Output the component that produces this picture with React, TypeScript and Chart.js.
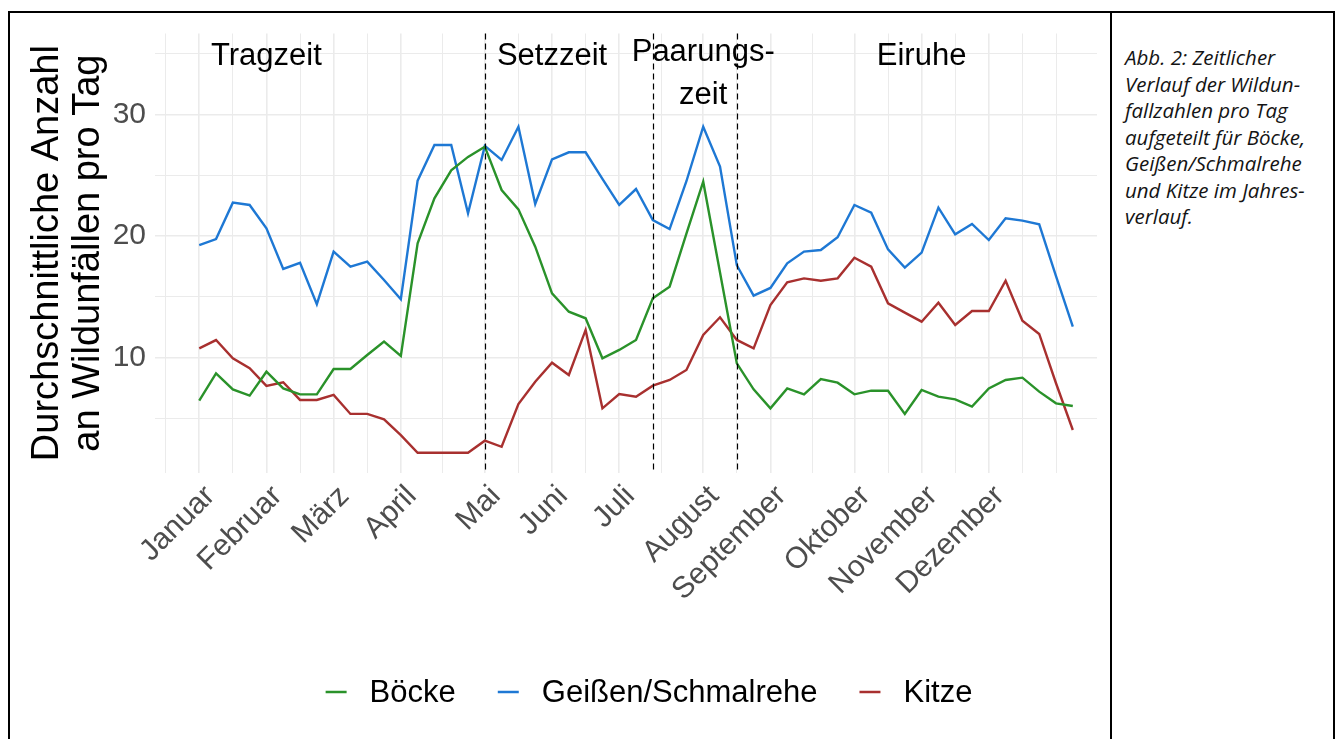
import React, { useEffect, useRef } from 'react';
import { Chart, registerables } from 'chart.js';

Chart.register(...registerables);

// ---------- data ----------
const weeks = [
  1, 2, 3, 4, 5, 6, 7, 8, 9, 10, 11, 12, 13, 14, 15, 16, 17, 18, 19, 20, 21, 22, 23, 24, 25, 26,
  27, 28, 29, 30, 31, 32, 33, 34, 35, 36, 37, 38, 39, 40, 41, 42, 43, 44, 45, 46, 47, 48, 49, 50,
  51, 52, 53,
];

const boecke = [
  6.47, 8.72, 7.4, 6.88, 8.85, 7.48, 6.99, 6.99, 9.07, 9.07, 10.22, 11.32, 10.14, 19.4, 23.1, 25.4,
  26.5, 27.34, 23.78, 22.19, 19.12, 15.29, 13.78, 13.24, 9.95, 10.64, 11.46, 14.89, 15.84, 20.2,
  24.46, 17.0, 9.54, 7.4, 5.84, 7.48, 6.99, 8.25, 7.95, 6.99, 7.29, 7.29, 5.38, 7.35, 6.8, 6.58,
  5.98, 7.48, 8.17, 8.36, 7.21, 6.25, 6.03,
];

const geissen = [
  19.26, 19.75, 22.74, 22.55, 20.63, 17.29, 17.8, 14.4, 18.72, 17.48, 17.89, 16.38, 14.8, 24.55,
  27.48, 27.48, 21.86, 27.4, 26.25, 28.98, 22.63, 26.3, 26.88, 26.88, 24.7, 22.55, 23.86, 21.31,
  20.57, 24.5, 28.98, 25.7, 17.6, 15.1, 15.73, 17.76, 18.72, 18.85, 19.9, 22.55, 21.92, 18.9, 17.4,
  18.63, 22.33, 20.14, 20.99, 19.67, 21.45, 21.26, 20.96, 16.7, 12.55,
];

const kitze = [
  10.77, 11.45, 9.95, 9.13, 7.68, 7.98, 6.53, 6.53, 6.94, 5.38, 5.38, 4.94, 3.64, 2.19, 2.19, 2.19,
  2.19, 3.18, 2.68, 6.19, 8.03, 9.59, 8.58, 12.28, 5.84, 7.02, 6.8, 7.7, 8.17, 8.99, 11.87, 13.32,
  11.46, 10.77, 14.33, 16.2, 16.52, 16.33, 16.52, 18.22, 17.48, 14.47, 13.7, 12.96, 14.52, 12.69,
  13.84, 13.84, 16.33, 13.04, 11.95, 7.9, 4.06,
];

const seriesLabels = ['Böcke', 'Geißen/Schmalrehe', 'Kitze'];
const seriesColors = ['#2A922A', '#1E78D4', '#A8302F'];

const monthLabels = [
  'Januar', 'Februar', 'März', 'April', 'Mai', 'Juni', 'Juli', 'August', 'September', 'Oktober',
  'November', 'Dezember',
];
const monthWeeks = [1, 5, 9, 13, 18, 22, 26, 31, 35, 40, 44, 48];
const minorWeeks = [-1, 3, 7, 11, 15.5, 20, 24, 28.5, 33, 37.5, 42, 46, 50, 52];

const yMajorTicks = [10, 20, 30];
const yMinorTicks = [5, 15, 25, 35];

const phaseBoundaries = [18, 28, 33];
const phaseLabels = ['Tragzeit', 'Setzzeit', 'Paarungs-\nzeit', 'Eiruhe'];
const phaseLabelWeeks = [5, 22, 31, 44];
const phaseLabelY = [34.75, 34.75, 33.3, 34.75];

const yTitle = ['Durchschnittliche Anzahl', 'an Wildunfällen pro Tag'];
const captionLines = [
  'Abb. 2: Zeitlicher',
  'Verlauf der Wildun-',
  'fallzahlen pro Tag',
  'aufgeteilt für Böcke,',
  'Geißen/Schmalrehe',
  'und Kitze im Jahres-',
  'verlauf.',
];

const FONT = "'Liberation Sans', Arial, Helvetica, sans-serif";

// ---------- plugins ----------
const phasePlugin = {
  id: 'phases',
  afterDatasetsDraw(chart: any) {
    const { ctx, chartArea, scales } = chart;
    const xs = scales.x;
    const ys = scales.y;
    ctx.save();
    ctx.strokeStyle = '#000';
    ctx.lineWidth = 1.2;
    ctx.setLineDash([6, 4]);
    phaseBoundaries.forEach((w) => {
      const px = Math.round(xs.getPixelForValue(w)) + 0.5;
      ctx.beginPath();
      ctx.moveTo(px, chartArea.top);
      ctx.lineTo(px, chartArea.bottom);
      ctx.stroke();
    });
    ctx.setLineDash([]);
    ctx.fillStyle = '#000';
    ctx.font = `31px ${FONT}`;
    ctx.textAlign = 'center';
    ctx.textBaseline = 'middle';
    const lh = 43.3;
    phaseLabels.forEach((txt, i) => {
      const lines = txt.split('\n');
      const cx = xs.getPixelForValue(phaseLabelWeeks[i]);
      const cy = ys.getPixelForValue(phaseLabelY[i]);
      const start = cy - ((lines.length - 1) * lh) / 2;
      lines.forEach((ln, j) => ctx.fillText(ln, cx, start + j * lh));
    });
    ctx.restore();
  },
};

const legendPlugin = {
  id: 'ggLegend',
  afterDraw(chart: any) {
    const { ctx } = chart;
    const datasets = chart.data.datasets;
    ctx.save();
    ctx.font = `31px ${FONT}`;
    const keyW = 21;
    const keyGap = 23;
    const itemGap = 42;
    const widths = datasets.map((d: any) => ctx.measureText(d.label).width);
    const total =
      widths.reduce((a: number, b: number) => a + b, 0) +
      datasets.length * (keyW + keyGap) +
      (datasets.length - 1) * itemGap;
    const cx = 639;
    const cy = 679;
    let x = cx - total / 2;
    datasets.forEach((d: any, i: number) => {
      ctx.strokeStyle = d.borderColor;
      ctx.lineWidth = 2.5;
      ctx.beginPath();
      ctx.moveTo(x, cy);
      ctx.lineTo(x + keyW, cy);
      ctx.stroke();
      x += keyW + keyGap;
      ctx.fillStyle = '#000';
      ctx.textAlign = 'left';
      ctx.textBaseline = 'middle';
      ctx.fillText(d.label, x, cy + 1);
      x += widths[i] + itemGap;
    });
    ctx.restore();
  },
};

const xTickValues = [...monthWeeks, ...minorWeeks].sort((a, b) => a - b);
const yTickValues = [...yMajorTicks, ...yMinorTicks].sort((a, b) => a - b);

function ChartPanel() {
  const ref = useRef<HTMLCanvasElement | null>(null);
  useEffect(() => {
    if (!ref.current) return;
    Chart.defaults.font.family = FONT;
    const series = [boecke, geissen, kitze];
    const chart = new Chart(ref.current, {
      type: 'line',
      data: {
        datasets: series.map((vals, i) => ({
          label: seriesLabels[i],
          data: weeks.map((w, j) => ({ x: w, y: vals[j] })),
          borderColor: seriesColors[i],
          backgroundColor: seriesColors[i],
          borderWidth: 2.4,
          pointRadius: 0,
          tension: 0,
          fill: false,
        })),
      },
      options: {
        animation: false,
        responsive: false,
        maintainAspectRatio: false,
        layout: { padding: { left: 10, right: 13, top: 20.5, bottom: 0 } },
        plugins: {
          legend: { display: false },
          tooltip: { enabled: false },
          title: { display: false },
        },
        scales: {
          x: {
            type: 'linear',
            min: -1.633,
            max: 54.44,
            afterBuildTicks: (s: any) => {
              s.ticks = xTickValues.map((v) => ({ value: v }));
            },
            afterFit: (s: any) => {
              s.height = 258.3;
              s.paddingLeft = 0;
              s.paddingRight = 0;
            },
            ticks: {
              autoSkip: false,
              maxRotation: 45,
              minRotation: 45,
              padding: 6,
              labelOffset: 11,
              color: '#4D4D4D',
              font: { size: 30, family: FONT },
              callback: (v: any) => {
                const idx = monthWeeks.indexOf(Number(v));
                return idx >= 0 ? monthLabels[idx] : '';
              },
            },
            grid: {
              color: '#EBEBEB',
              lineWidth: (c: any) => (monthWeeks.includes(c.tick?.value) ? 1.6 : 1),
              drawTicks: false,
            },
            border: { display: false },
          },
          y: {
            type: 'linear',
            min: 0.55,
            max: 36.64,
            afterBuildTicks: (s: any) => {
              s.ticks = yTickValues.map((v) => ({ value: v }));
            },
            afterFit: (s: any) => {
              s.width = 135;
              s.paddingTop = 0;
              s.paddingBottom = 0;
            },
            ticks: {
              padding: 9,
              color: '#4D4D4D',
              font: { size: 30, family: FONT },
              callback: (v: any) => (yMajorTicks.includes(Number(v)) ? String(v) : ''),
            },
            grid: {
              color: '#EBEBEB',
              lineWidth: (c: any) => (yMajorTicks.includes(c.tick?.value) ? 1.6 : 1),
              drawTicks: false,
            },
            border: { display: false },
            title: {
              display: true,
              text: yTitle,
              color: '#000',
              font: { size: 38, family: FONT, lineHeight: 41 / 38 },
              padding: { top: 7.5, bottom: 0 },
            },
          },
        },
      },
      plugins: [phasePlugin, legendPlugin],
    } as any);
    return () => chart.destroy();
  }, []);
  return <canvas ref={ref} width={1100} height={718} style={{ display: 'block', width: 1100, height: 718 }} />;
}

export default function App() {
  return (
    <div
      style={{
        position: 'fixed',
        left: 8,
        top: 11,
        width: 1327,
        height: 740,
        display: 'flex',
        boxSizing: 'border-box',
        borderTop: '2px solid #000',
        borderLeft: '2px solid #000',
        borderRight: '2px solid #000',
        background: '#fff',
      }}
    >
      <div style={{ width: 1100, height: '100%', flex: 'none' }}>
        <ChartPanel />
      </div>
      <div style={{ width: 2, background: '#000', flex: 'none' }} />
      <div
        style={{
          flex: 1,
          paddingTop: 31,
          paddingLeft: 13,
          fontFamily: "'Open Sans', 'Noto Sans', sans-serif",
          fontStyle: 'italic',
          fontSize: 20.5,
          lineHeight: '26.5px',
          color: '#141414',
          whiteSpace: 'nowrap',
        }}
      >
        {captionLines.map((l, i) => (
          <div key={i}>{l}</div>
        ))}
      </div>
    </div>
  );
}
